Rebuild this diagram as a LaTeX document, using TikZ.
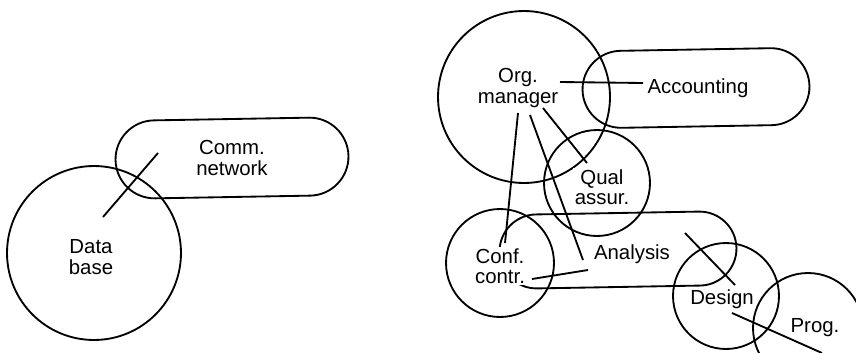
\documentclass[tikz,border=0pt]{standalone}
\usepackage{fontspec}
\setmainfont{Liberation Sans}
\usepackage{tikz}
\usetikzlibrary{shapes.misc}

\begin{document}
\begin{tikzpicture}[x=0.02cm, y=-0.02cm, line width=1.05pt,
    ring/.style={circle, draw, inner sep=0pt},
    pill/.style={rounded rectangle, draw, inner sep=0pt, rotate=1},
    tag/.style={fill=white, inner sep=1pt, align=center, font=\fontsize{11.6}{11.6}\selectfont}
]
\clip (0,0) rectangle (856,352);

% Left group
\node[ring, minimum size=3.48cm] (dbc) at (94,253) {};
\node[pill, minimum width=4.66cm, minimum height=1.56cm] (cns) at (232,158) {};
\node[tag] (db) at (91,257) {Data\\base};
\node[tag] (cn) at (232,158) {Comm.\\network};
\draw ([shift={(12,-40)}]db.center) -- ([shift={(-74,-5)}]cn.center);

% Right group: shapes
\node[ring, minimum size=3.44cm] (omc) at (524,97) {};
\node[pill, minimum width=4.54cm, minimum height=1.54cm] (acs) at (696,88) {};
\node[ring, minimum size=2.12cm] (qac) at (597,183) {};
\node[ring, minimum size=2.16cm] (ccc) at (500,263) {};
\node[pill, minimum width=4.74cm, minimum height=1.48cm] (ans) at (618,250) {};
\node[ring, minimum size=2.12cm] (dec) at (726,296) {};
\node[ring, minimum size=2.2cm] (prc) at (808,328) {};

% Right group: labels
\node[tag] (om) at (518,88) {Org.\\manager};
\node[tag] (ac) at (698,88) {Accounting};
\node[tag] (qa) at (602,187) {Qual\\assur.};
\node[tag] (cc) at (500,266) {Conf.\\contr.};
\node[tag] (an) at (632,254) {Analysis};
\node[tag] (de) at (722,299) {Design};
\node[tag] (pr) at (815,328) {Prog.};

% Links
\draw ([shift={(42,-6)}]om.center) -- ([shift={(-55,-5)}]ac.center);
\draw ([shift={(0,25)}]om.center) -- ([shift={(5,-23)}]cc.center);
\draw ([shift={(12,27)}]om.center) -- ([shift={(-49,6)}]an.center);
\draw ([shift={(25,20)}]om.center) -- ([shift={(-15,-24)}]qa.center);
\draw ([shift={(32,13)}]cc.center) -- ([shift={(-44,16)}]an.center);
\draw ([shift={(53,-21)}]an.center) -- ([shift={(13,-14)}]de.center);
\draw ([shift={(10,14)}]de.center) -- ([shift={(7,25)}]pr.center);

\end{tikzpicture}
\end{document}
